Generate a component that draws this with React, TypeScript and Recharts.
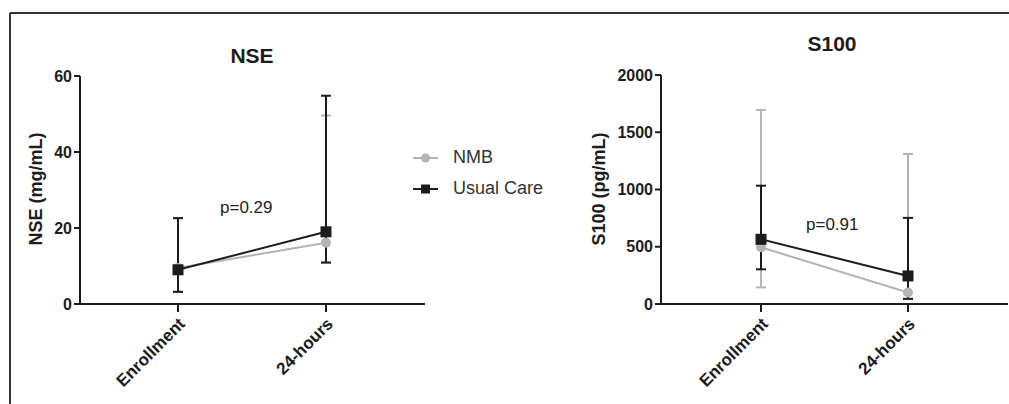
import { ErrorBar, Legend, Line, LineChart, XAxis, YAxis } from "recharts";

const categories = ["Enrollment", "24-hours"];

// NSE (mg/mL): mean with lower / upper whisker ends
const nseNmb = [9.5, 16.1];
const nseNmbLow = [3.2, 10.9];
const nseNmbHigh = [22.6, 49.6];
const nseUsual = [9.0, 19.0];
const nseUsualLow = [3.2, 10.9];
const nseUsualHigh = [22.6, 54.8];

// S100 (pg/mL)
const s100Nmb = [495, 100];
const s100NmbLow = [145, 45];
const s100NmbHigh = [1695, 1310];
const s100Usual = [565, 245];
const s100UsualLow = [303, 45];
const s100UsualHigh = [1033, 752];

const nseTicks = [0, 20, 40, 60];
const s100Ticks = [0, 500, 1000, 1500, 2000];

const FONT = "'Liberation Sans', Arial, Helvetica, sans-serif";
const BLACK = "#1c1c1c";
const GREY = "#b4b4b6";

function buildRows(
  nmb: number[],
  nmbLow: number[],
  nmbHigh: number[],
  usual: number[],
  usualLow: number[],
  usualHigh: number[]
) {
  return categories.map((name, i) => ({
    name,
    nmb: nmb[i],
    nmbErr: [nmb[i] - nmbLow[i], nmbHigh[i] - nmb[i]],
    usual: usual[i],
    usualErr: [usual[i] - usualLow[i], usualHigh[i] - usual[i]],
  }));
}

const nseRows = buildRows(nseNmb, nseNmbLow, nseNmbHigh, nseUsual, nseUsualLow, nseUsualHigh);
const s100Rows = buildRows(s100Nmb, s100NmbLow, s100NmbHigh, s100Usual, s100UsualLow, s100UsualHigh);

const SquareDot = (props: any) => {
  const { cx, cy, index } = props;
  if (cx == null || cy == null) return <g key={index} />;
  return <rect key={index} x={cx - 5.5} y={cy - 5.5} width={11} height={11} fill={BLACK} />;
};

const XTick = (props: any) => {
  const { x, y, payload } = props;
  return (
    <g transform={`translate(${x + 8},${y + 11})`}>
      <text
        textAnchor="end"
        transform="rotate(-45)"
        fontSize={17}
        fontWeight="bold"
        fontFamily={FONT}
        fill={BLACK}
      >
        {payload.value}
      </text>
    </g>
  );
};

const yTick = { fontSize: 16, fontWeight: "bold", fill: BLACK, fontFamily: FONT };

const renderLegend = (props: any) => {
  const { payload = [] } = props;
  return (
    <div>
      {payload.map((entry: any) => (
        <div key={entry.value} style={{ display: "flex", alignItems: "center", height: 31 }}>
          <svg width={40} height={20}>
            <line x1={8} x2={33} y1={10} y2={10} stroke={entry.color} strokeWidth={2} />
            {entry.dataKey === "usual" ? (
              <rect x={16} y={5.5} width={9} height={9} fill={entry.color} />
            ) : (
              <circle cx={20.5} cy={10} r={4.5} fill={entry.color} />
            )}
          </svg>
          <span style={{ fontSize: 18, color: "#333", marginLeft: 8, fontFamily: FONT }}>
            {entry.value}
          </span>
        </div>
      ))}
    </div>
  );
};

export default function App() {
  return (
    <div
      style={{
        position: "absolute",
        left: 0,
        top: 0,
        width: 1009,
        height: 404,
        background: "#fff",
        fontFamily: FONT,
      }}
    >
      <svg width={1009} height={404} style={{ position: "absolute", left: 0, top: 0 }}>
        <line x1={10} x2={1009} y1={13} y2={13} stroke="#333" strokeWidth={2} />
        <line x1={10} x2={10} y1={13} y2={404} stroke="#333" strokeWidth={2} />
        <text x={252} y={63} textAnchor="middle" fontSize={21} fontWeight="bold" fill={BLACK}>
          NSE
        </text>
        <text x={832} y={51} textAnchor="middle" fontSize={21} fontWeight="bold" fill={BLACK}>
          S100
        </text>
        <text
          x={42}
          y={189}
          textAnchor="middle"
          transform="rotate(-90, 42, 189)"
          fontSize={18}
          fontWeight="bold"
          fill={BLACK}
        >
          NSE (mg/mL)
        </text>
        <text
          x={605}
          y={189}
          textAnchor="middle"
          transform="rotate(-90, 605, 189)"
          fontSize={18}
          fontWeight="bold"
          fill={BLACK}
        >
          S100 (pg/mL)
        </text>
        <text x={220} y={213} fontSize={17} fill="#222">
          p=0.29
        </text>
        <text x={806} y={230} fontSize={17} fill="#222">
          p=0.91
        </text>
      </svg>

      <div style={{ position: "absolute", left: 0, top: 0 }}>
        <LineChart
          width={575}
          height={404}
          data={nseRows}
          margin={{ top: 76, right: 150, bottom: 40, left: 20 }}
        >
          <XAxis
            dataKey="name"
            scale="point"
            padding={{ left: 98, right: 99 }}
            height={60}
            axisLine={{ stroke: BLACK, strokeWidth: 2 }}
            tickLine={{ stroke: BLACK, strokeWidth: 2 }}
            tickSize={8}
            tick={<XTick />}
          />
          <YAxis
            domain={[0, 60]}
            ticks={nseTicks}
            width={60}
            axisLine={{ stroke: BLACK, strokeWidth: 2 }}
            tickLine={{ stroke: BLACK, strokeWidth: 2 }}
            tickSize={6}
            tickMargin={2}
            tick={yTick}
          />
          <Line
            dataKey="nmb"
            name="NMB"
            stroke={GREY}
            strokeWidth={2}
            dot={{ r: 5, fill: GREY, stroke: GREY, strokeWidth: 0 }}
            isAnimationActive={false}
          >
            <ErrorBar dataKey="nmbErr" direction="y" width={5} stroke={GREY} strokeWidth={2} />
          </Line>
          <Line
            dataKey="usual"
            name="Usual Care"
            stroke={BLACK}
            strokeWidth={2}
            dot={<SquareDot />}
            isAnimationActive={false}
          >
            <ErrorBar dataKey="usualErr" direction="y" width={5} stroke={BLACK} strokeWidth={2} />
          </Line>
          <Legend
            layout="vertical"
            align="center"
            verticalAlign="middle"
            content={renderLegend}
            wrapperStyle={{ left: 405, top: 142, width: 170 }}
          />
        </LineChart>
      </div>

      <div style={{ position: "absolute", left: 580, top: 0 }}>
        <LineChart
          width={429}
          height={404}
          data={s100Rows}
          margin={{ top: 75, right: 1, bottom: 40, left: 21 }}
        >
          <XAxis
            dataKey="name"
            scale="point"
            padding={{ left: 100, right: 100 }}
            height={60}
            axisLine={{ stroke: BLACK, strokeWidth: 2 }}
            tickLine={{ stroke: BLACK, strokeWidth: 2 }}
            tickSize={8}
            tick={<XTick />}
          />
          <YAxis
            domain={[0, 2000]}
            ticks={s100Ticks}
            width={60}
            axisLine={{ stroke: BLACK, strokeWidth: 2 }}
            tickLine={{ stroke: BLACK, strokeWidth: 2 }}
            tickSize={6}
            tickMargin={2}
            tick={yTick}
          />
          <Line
            dataKey="nmb"
            name="NMB"
            stroke={GREY}
            strokeWidth={2}
            dot={{ r: 5, fill: GREY, stroke: GREY, strokeWidth: 0 }}
            isAnimationActive={false}
          >
            <ErrorBar dataKey="nmbErr" direction="y" width={5} stroke={GREY} strokeWidth={2} />
          </Line>
          <Line
            dataKey="usual"
            name="Usual Care"
            stroke={BLACK}
            strokeWidth={2}
            dot={<SquareDot />}
            isAnimationActive={false}
          >
            <ErrorBar dataKey="usualErr" direction="y" width={5} stroke={BLACK} strokeWidth={2} />
          </Line>
        </LineChart>
      </div>
    </div>
  );
}
